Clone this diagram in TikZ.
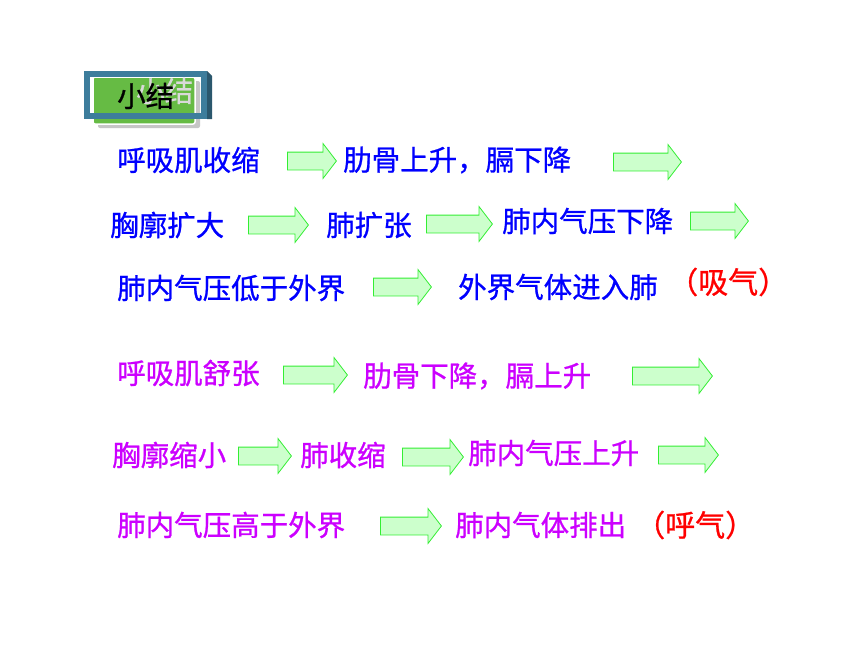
\documentclass[tikz,border=0pt]{standalone}
\usepackage{fontspec}
\usepackage{xcolor}
\usepackage{tikz}
\usetikzlibrary{shapes.arrows}
\setmainfont[FakeBold=0.8, AutoFakeBold=0.8]{Noto Sans CJK SC}
\definecolor{kblue}{HTML}{0000FF}
\definecolor{kpurple}{HTML}{CC00FF}
\definecolor{kred}{HTML}{FF0000}
\definecolor{kfill}{HTML}{CCFFCC}
\definecolor{kline}{HTML}{33EE33}
\definecolor{kteal}{HTML}{3D7D9C}
\definecolor{kgreen}{HTML}{66BB44}

\tikzset{
  txt/.style={anchor=west, inner sep=0pt, font=\fontsize{28.5}{30}\selectfont},
  blu/.style={txt, text=kblue},
  prp/.style={txt, text=kpurple},
  rd/.style={txt, text=kred, font=\fontsize{30}{32}\selectfont},
  fatarrow/.style={single arrow, fill=kfill, draw=kline, line width=0.8pt,
    inner sep=8.5pt, single arrow head extend=8.5pt, single arrow tip angle=105,
    anchor=tail},
}

\begin{document}
\begin{tikzpicture}[x=1pt, y=-1pt]
\useasboundingbox[fill=white] (0,0) rectangle (860,645);
% title box
\fill[gray!45, rounded corners=2pt] (98,81) rectangle (200,128);
\filldraw[kgreen, draw=white, line width=1.5pt, rounded corners=2pt] (93,77) rectangle (195,124);
\node[txt, text=gray!30] (ghost) at (136,91) {小结};
\node[txt, text=black] (title) at (117,96) {小结};
\draw[kteal, line width=6pt] (87,74) rectangle (204,116);
\fill[kteal!70!black] (207,71) -- (212,76) -- (212,119) -- (207,119) -- cycle;
% inhale
\node[blu] (t11) at (117,160) {呼吸肌收缩};
\node[fatarrow, minimum height=49] (a11) at (287,161) {};
\node[blu] (t12) at (343,160) {肋骨上升，膈下降};
\node[fatarrow, minimum height=68] (a12) at (613,162) {};
\node[blu] (t21) at (110,225) {胸廓扩大};
\node[fatarrow, minimum height=60] (a21) at (248,225) {};
\node[blu] (t22) at (326,225) {肺扩张};
\node[fatarrow, minimum height=66] (a22) at (426,224) {};
\node[blu] (t23) at (502,221) {肺内气压下降};
\node[fatarrow, minimum height=58] (a23) at (690,221) {};
\node[blu] (t31) at (117,288) {肺内气压低于外界};
\node[fatarrow, minimum height=58] (a31) at (373,287) {};
\node[blu] (t32) at (458,287) {外界气体进入肺};
\node[rd] (t33) at (668,282) {（吸气）};
% exhale
\node[prp] (t41) at (117,373) {呼吸肌舒张};
\node[fatarrow, minimum height=64] (a41) at (283,375) {};
\node[prp] (t42) at (363,376) {肋骨下降，膈上升};
\node[fatarrow, minimum height=80] (a42) at (632,376) {};
\node[prp] (t51) at (112,455) {胸廓缩小};
\node[fatarrow, minimum height=53] (a51) at (238,456) {};
\node[prp] (t52) at (300,455) {肺收缩};
\node[fatarrow, minimum height=61] (a52) at (402,457) {};
\node[prp] (t53) at (468,453) {肺内气压上升};
\node[fatarrow, minimum height=60] (a53) at (658,455) {};
\node[prp] (t61) at (117,525) {肺内气压高于外界};
\node[fatarrow, minimum height=61] (a61) at (380,526) {};
\node[prp] (t62) at (455,525) {肺内气体排出};
\node[rd] (t63) at (635,525) {（呼气）};
\end{tikzpicture}
\end{document}
